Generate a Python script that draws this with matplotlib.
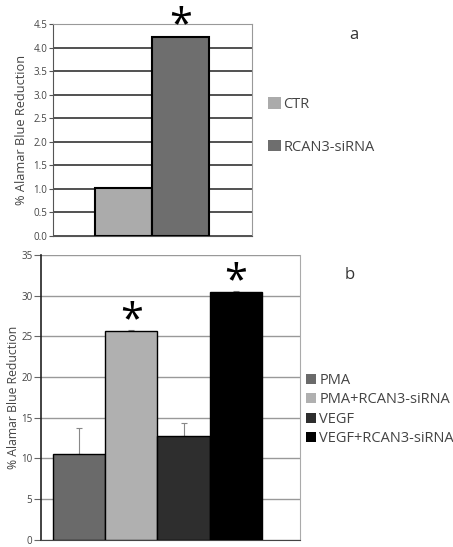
import matplotlib.pyplot as plt
import numpy as np

plt.rcParams['font.family'] = ['Open Sans', 'DejaVu Sans']

# panel a
groups_a = ["CTR", "RCAN3-siRNA"]
values_a = [1.02, 4.22]
colors_a = ["#ababab", "#6e6e6e"]
star_a = [False, True]

# panel b
groups_b = ["PMA", "PMA+RCAN3-siRNA", "VEGF", "VEGF+RCAN3-siRNA"]
values_b = [10.5, 25.7, 12.7, 30.5]
errors_b = [3.3, 0.05, 1.7, 0.05]
colors_b = ["#6a6a6a", "#b0b0b0", "#2e2e2e", "#000000"]
star_b = [False, True, False, True]

fig = plt.figure(figsize=(4.53, 5.47), dpi=100)

# ---- top chart
ax1 = fig.add_axes([0.117, 0.569, 0.439, 0.387])
x1 = np.arange(len(values_a))
bars = ax1.bar(x1, values_a, width=1.0, color=colors_a, edgecolor="black", linewidth=1.5, zorder=3)
ax1.set_xlim(-1.237, 2.254)
ax1.set_ylim(0, 4.5)
ax1.set_yticks(np.arange(0, 4.51, 0.5))
ax1.set_yticklabels(["%.1f" % v for v in np.arange(0, 4.51, 0.5)], fontsize=7, color="#444444")
ax1.set_xticks([])
ax1.yaxis.grid(True, color="#333333", linewidth=1.2, zorder=0)
ax1.set_axisbelow(True)
for s in ["top", "right"]:
    ax1.spines[s].set_color("#999999")
ax1.spines["left"].set_color("#555555")
ax1.spines["bottom"].set_color("#555555")
ax1.tick_params(axis="y", length=3, color="#555555", pad=1)
ax1.set_ylabel("% Alamar Blue Reduction", fontsize=9.2, color="#444444", labelpad=4)
for i in range(len(values_a)):
    if star_a[i]:
        ax1.annotate("*", (x1[i], values_a[i]), xytext=(0, 8), textcoords="offset points",
                     ha="center", va="center", fontsize=30, annotation_clip=False)
ax1.legend(bars, groups_a, loc="upper left", bbox_to_anchor=(0.592, 0.823), bbox_transform=fig.transFigure,
           frameon=False, fontsize=10.5, handlelength=0.85, handleheight=0.85, handletextpad=0.2,
           labelspacing=1.9, borderaxespad=0, borderpad=0, labelcolor="#444444")
for h in ax1.get_legend().legend_handles:
    h.set_edgecolor("none")
fig.text(0.781, 0.936, "a", fontsize=12, ha="center", va="center", color="#333333")

# ---- bottom chart
ax2 = fig.add_axes([0.09, 0.013, 0.572, 0.521])
x2 = np.arange(len(values_b))
bars2 = ax2.bar(x2, values_b, width=1.0, color=colors_b, edgecolor="black", linewidth=1.0, zorder=3)
ax2.errorbar(x2, values_b, yerr=[np.zeros(len(errors_b)), errors_b], fmt="none", ecolor="#888888",
             elinewidth=0.8, capsize=2, capthick=0.8, zorder=2)
ax2.set_xlim(-0.729, 4.224)
ax2.set_ylim(0, 35)
ax2.set_yticks(np.arange(0, 36, 5))
ax2.set_yticklabels([str(v) for v in range(0, 36, 5)], fontsize=7, color="#444444")
ax2.set_xticks([])
ax2.yaxis.grid(True, color="#999999", linewidth=1.0, zorder=0)
ax2.set_axisbelow(True)
ax2.spines["top"].set_visible(False)
ax2.spines["right"].set_color("#aaaaaa")
ax2.spines["left"].set_color("#222222")
ax2.spines["left"].set_linewidth(1.2)
ax2.spines["bottom"].set_color("#444444")
ax2.tick_params(axis="y", length=5, color="#666666", pad=1)
ax2.set_ylabel("% Alamar Blue Reduction", fontsize=8.8, color="#444444", labelpad=1)
for i in range(len(values_b)):
    if star_b[i]:
        ax2.annotate("*", (x2[i], values_b[i]), xytext=(0, 7), textcoords="offset points",
                     ha="center", va="center", fontsize=30, annotation_clip=False)
ax2.legend(bars2, groups_b, loc="upper left", bbox_to_anchor=(0.676, 0.318), bbox_transform=fig.transFigure,
           frameon=False, fontsize=10.5, handlelength=0.7, handleheight=0.7, handletextpad=0.2,
           labelspacing=0.3, borderaxespad=0, borderpad=0, labelcolor="#444444")
for h in ax2.get_legend().legend_handles:
    h.set_edgecolor("none")
fig.text(0.773, 0.497, "b", fontsize=12, ha="center", va="center", color="#333333")

plt.savefig("out.png", dpi=100)
